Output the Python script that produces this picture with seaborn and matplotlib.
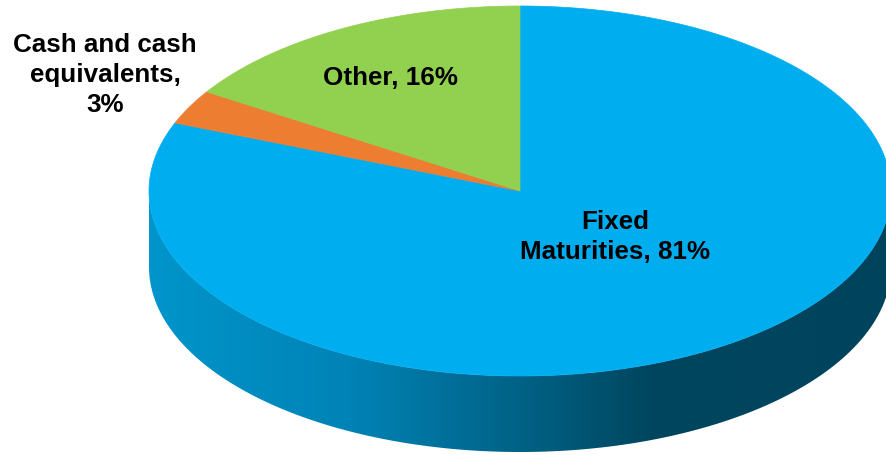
import numpy as np
import matplotlib
matplotlib.use("Agg")
import matplotlib.pyplot as plt
import seaborn as sns
from matplotlib.patches import Polygon
from matplotlib.colors import LinearSegmentedColormap

sns.set_theme(style="white")
plt.rcParams['font.family'] = ['Liberation Sans', 'DejaVu Sans']

# Data
labels = ["Fixed\nMaturities, 81%", "Cash and cash\nequivalents,\n3%", "Other, 16%"]
values = [81, 3, 16]
colors = ["#00AEEF", "#ED7D31", "#92D050"]

W, H = 886, 455
fig = plt.figure(figsize=(W / 100, H / 100), dpi=100)
ax = fig.add_axes([0, 0, 1, 1])
ax.set_xlim(0, W)
ax.set_ylim(H, 0)
ax.axis("off")

cx, cy, rx, ry, depth = 520, 191, 371, 185, 76

def pt(t, dy=0.0):
    return cx + rx * np.sin(t), cy - ry * np.cos(t) + dy

# side wall (front half, t from 90deg to 270deg)
ts = np.linspace(np.pi / 2, 3 * np.pi / 2, 300)
top = np.array([pt(t) for t in ts])
bot = np.array([pt(t, depth) for t in ts[::-1]])
side = Polygon(np.vstack([top, bot]), closed=True, facecolor="none", edgecolor="none")
ax.add_patch(side)
xs0, xs1 = 140, 900
stops = [(xs0, "#0096CC"), (350, "#0083B6"), (540, "#005E80"), (650, "#00465F"), (xs1, "#00435C")]
cmap = LinearSegmentedColormap.from_list(
    "side", [((x - xs0) / (xs1 - xs0), c) for x, c in stops], N=512)
grad = np.linspace(0, 1, 512)[None, :]
im = ax.imshow(grad, cmap=cmap, extent=[xs0, xs1, H, 0], aspect="auto",
               vmin=0, vmax=1, zorder=1)
im.set_clip_path(side)
ax.set_xlim(0, W)
ax.set_ylim(H, 0)

# top face wedges: clockwise from 12 o'clock
total = float(sum(values))
start = 0.0
for v, c in zip(values, colors):
    a0 = 2 * np.pi * start / total
    a1 = 2 * np.pi * (start + v) / total
    tt = np.linspace(a0, a1, max(int(200 * v / total * 4), 10))
    pts = [(cx, cy)] + [pt(t) for t in tt]
    ax.add_patch(Polygon(pts, closed=True, facecolor=c, edgecolor=c, lw=0.5, zorder=2))
    start += v

fs = 18.7
ax.text(615, 237, labels[0], ha="center", va="center", fontsize=fs,
        fontweight="bold", color="black", linespacing=1.3, zorder=3)
ax.text(105, 75, labels[1], ha="center", va="center", fontsize=fs,
        fontweight="bold", color="black", linespacing=1.3, zorder=3)
ax.text(390, 78, labels[2], ha="center", va="center", fontsize=fs,
        fontweight="bold", color="black", zorder=3)

fig.savefig("out.png", dpi=100)
